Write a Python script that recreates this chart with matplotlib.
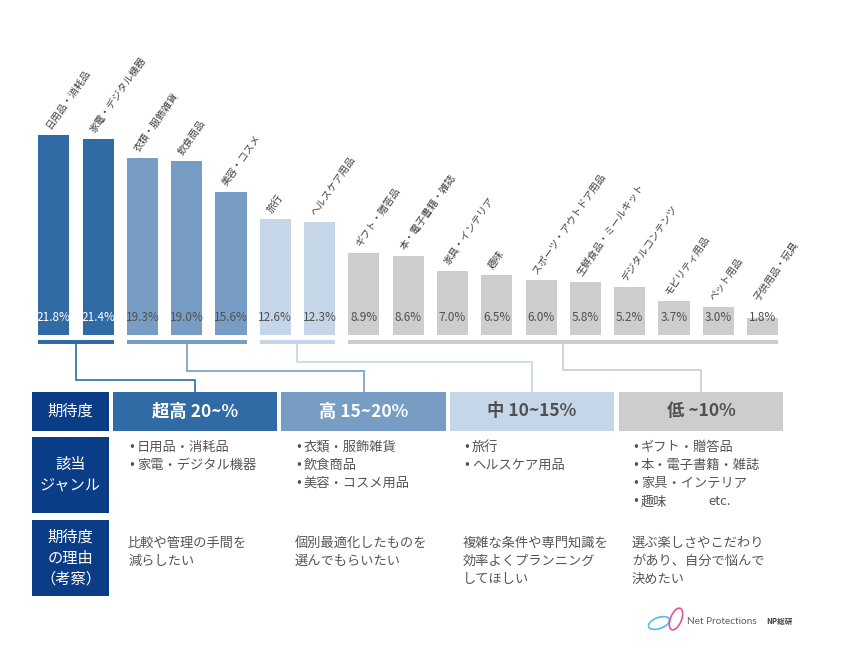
import matplotlib
matplotlib.use("Agg")
import matplotlib.pyplot as plt
from matplotlib.patches import Rectangle, Ellipse
import numpy as np

plt.rcParams['font.family'] = ['Noto Sans CJK JP', 'DejaVu Sans']

# ---------------- data ----------------
categories = ['日用品・消耗品', '家電・デジタル機器', '衣類・服飾雑貨', '飲食商品', '美容・コスメ',
              '旅行', 'ヘルスケア用品', 'ギフト・贈答品', '本・電子書籍・雑誌', '家具・インテリア',
              '趣味', 'スポーツ・アウトドア用品', '生鮮食品・ミールキット', 'デジタルコンテンツ',
              'モビリティ用品', 'ペット用品', '子供用品・玩具']
values = [21.8, 21.4, 19.3, 19.0, 15.6, 12.6, 12.3, 8.9, 8.6, 7.0, 6.5, 6.0, 5.8, 5.2, 3.7, 3.0, 1.8]
groups = [0, 0, 1, 1, 1, 2, 2, 3, 3, 3, 3, 3, 3, 3, 3, 3, 3]

tier_labels = ['超高 20~%', '高 15~20%', '中 10~15%', '低 ~10%']
row_labels = ['期待度', '該当\nジャンル', '期待度\nの理由\n（考察）']
genres = [
    ['日用品・消耗品', '家電・デジタル機器'],
    ['衣類・服飾雑貨', '飲食商品', '美容・コスメ用品'],
    ['旅行', 'ヘルスケア用品'],
    ['ギフト・贈答品', '本・電子書籍・雑誌', '家具・インテリア', '趣味'],
]
reasons = [
    ['比較や管理の手間を', '減らしたい'],
    ['個別最適化したものを', '選んでもらいたい'],
    ['複雑な条件や専門知識を', '効率よくプランニング', 'してほしい'],
    ['選ぶ楽しさやこだわり', 'があり、自分で悩んで', '決めたい'],
]

# ---------------- style ----------------
group_colors = ['#306BA6', '#789DC5', '#C6D6E9', '#CDCDCD']
line_colors = ['#306BA6', '#789DC5', '#C6D6E9', '#CDCDCD']
pct_colors = ['white', '#505050', '#505050', '#505050']
head_text_colors = ['white', 'white', '#505050', '#505050']
navy = '#0B3C86'
text_gray = '#555555'

W, H = 855, 652
fig = plt.figure(figsize=(W / 100, H / 100), dpi=100)

# bar axes: baseline at y=335px, 9.17 px per percent
base_px = 335
px_per = 9.17
ymax = 24
pitch = 44.3
c0 = 53.8
left_px = c0 - pitch * 0.5
right_px = c0 + pitch * (len(values) - 0.5)
ax = fig.add_axes([left_px / W, (H - base_px) / H, (right_px - left_px) / W, ymax * px_per / H])
ax.set_xlim(-0.5, len(values) - 0.5)
ax.set_ylim(0, ymax)
ax.axis('off')

x = np.arange(len(values))
bar_colors = [group_colors[g] for g in groups]
ax.bar(x, values, width=0.70, color=bar_colors, edgecolor='none')

for i, (v, g, name) in enumerate(zip(values, groups, categories)):
    ax.text(i, 1.95, f'{v:.1f}%', ha='center', va='center', fontsize=8.5, color=pct_colors[g])
    ax.text(i - 0.05, max(v, 3.0) + 0.5, name, rotation=55, rotation_mode='anchor', ha='left',
            va='bottom', fontsize=7.2, color='#404040')

# group underline bars
group_idx = [[i for i, gg in enumerate(groups) if gg == g] for g in range(4)]
for g, idxs in enumerate(group_idx):
    ax.add_patch(Rectangle((idxs[0] - 0.35, -1.03), idxs[-1] - idxs[0] + 0.70, 0.5,
                           color=group_colors[g], clip_on=False, lw=0))

# overlay axes in pixel coordinates
ov = fig.add_axes([0, 0, 1, 1])
ov.set_xlim(0, W)
ov.set_ylim(H, 0)
ov.axis('off')
ov.patch.set_alpha(0)

# table geometry
label_x0, label_x1 = 32, 109
col_x = [(113, 277), (281, 446), (450, 614), (619, 783)]
head_y = (392, 431)
row2_y = (437, 513)
row3_y = (520, 596)
hlev = [380, 371, 362, 370]

# connectors
fig.canvas.draw()
for g, idxs in enumerate(group_idx):
    cx = ax.transData.transform((np.mean(idxs), 0))[0]
    tx = (col_x[g][0] + col_x[g][1]) / 2
    ov.plot([cx, cx, tx, tx], [344, hlev[g], hlev[g], head_y[0]], color=line_colors[g], lw=1.2,
            solid_joinstyle='miter')

# header row
ov.add_patch(Rectangle((label_x0, head_y[0]), label_x1 - label_x0, head_y[1] - head_y[0], color=navy, lw=0))
ov.text((label_x0 + label_x1) / 2, (head_y[0] + head_y[1]) / 2, row_labels[0], ha='center', va='center',
        fontsize=11, color='white')
for g in range(4):
    x0, x1 = col_x[g]
    ov.add_patch(Rectangle((x0, head_y[0]), x1 - x0, head_y[1] - head_y[0], color=group_colors[g], lw=0))
    ov.text((x0 + x1) / 2, (head_y[0] + head_y[1]) / 2, tier_labels[g], ha='center', va='center',
            fontsize=12.5, fontweight='bold', color=head_text_colors[g])

# row label boxes
for (y0, y1), lab in zip([row2_y, row3_y], row_labels[1:]):
    ov.add_patch(Rectangle((label_x0, y0), label_x1 - label_x0, y1 - y0, color=navy, lw=0))
    ov.text((label_x0 + label_x1) / 2, (y0 + y1) / 2, lab, ha='center', va='center', fontsize=11,
            color='white', linespacing=1.3)

# genre bullets
txt_x = [128, 295, 463, 632]
for g in range(4):
    for k, s in enumerate(genres[g]):
        yy = 447 + 18.3 * k
        ov.text(txt_x[g], yy, '•', ha='left', va='center', fontsize=8.5, color=text_gray,
                family=['DejaVu Sans'])
        ov.text(txt_x[g] + 9, yy, s, ha='left', va='center', fontsize=9.5, color=text_gray)
ov.text(708, 447 + 18.3 * 3, 'etc.', ha='left', va='center', fontsize=9.5, color=text_gray)

# reasons
for g in range(4):
    for k, s in enumerate(reasons[g]):
        ov.text(txt_x[g], 543 + 18.3 * k, s, ha='left', va='center', fontsize=9.5, color=text_gray)

# logo
ov.add_patch(Ellipse((659, 623), 22, 11, angle=-20, fill=False, ec='#49C2EA', lw=1.2))
ov.add_patch(Ellipse((676, 619), 11, 23, angle=22, fill=False, ec='#E5539A', lw=1.2))
ov.text(687, 621, 'Net Protections', ha='left', va='center', fontsize=7.2, color='#606060',
        family=['Lato', 'DejaVu Sans'])
ov.text(766, 621, 'NP総研', ha='left', va='center', fontsize=5.5, fontweight='bold', color='#404040')

fig.savefig('out.png', dpi=100, facecolor='white')
